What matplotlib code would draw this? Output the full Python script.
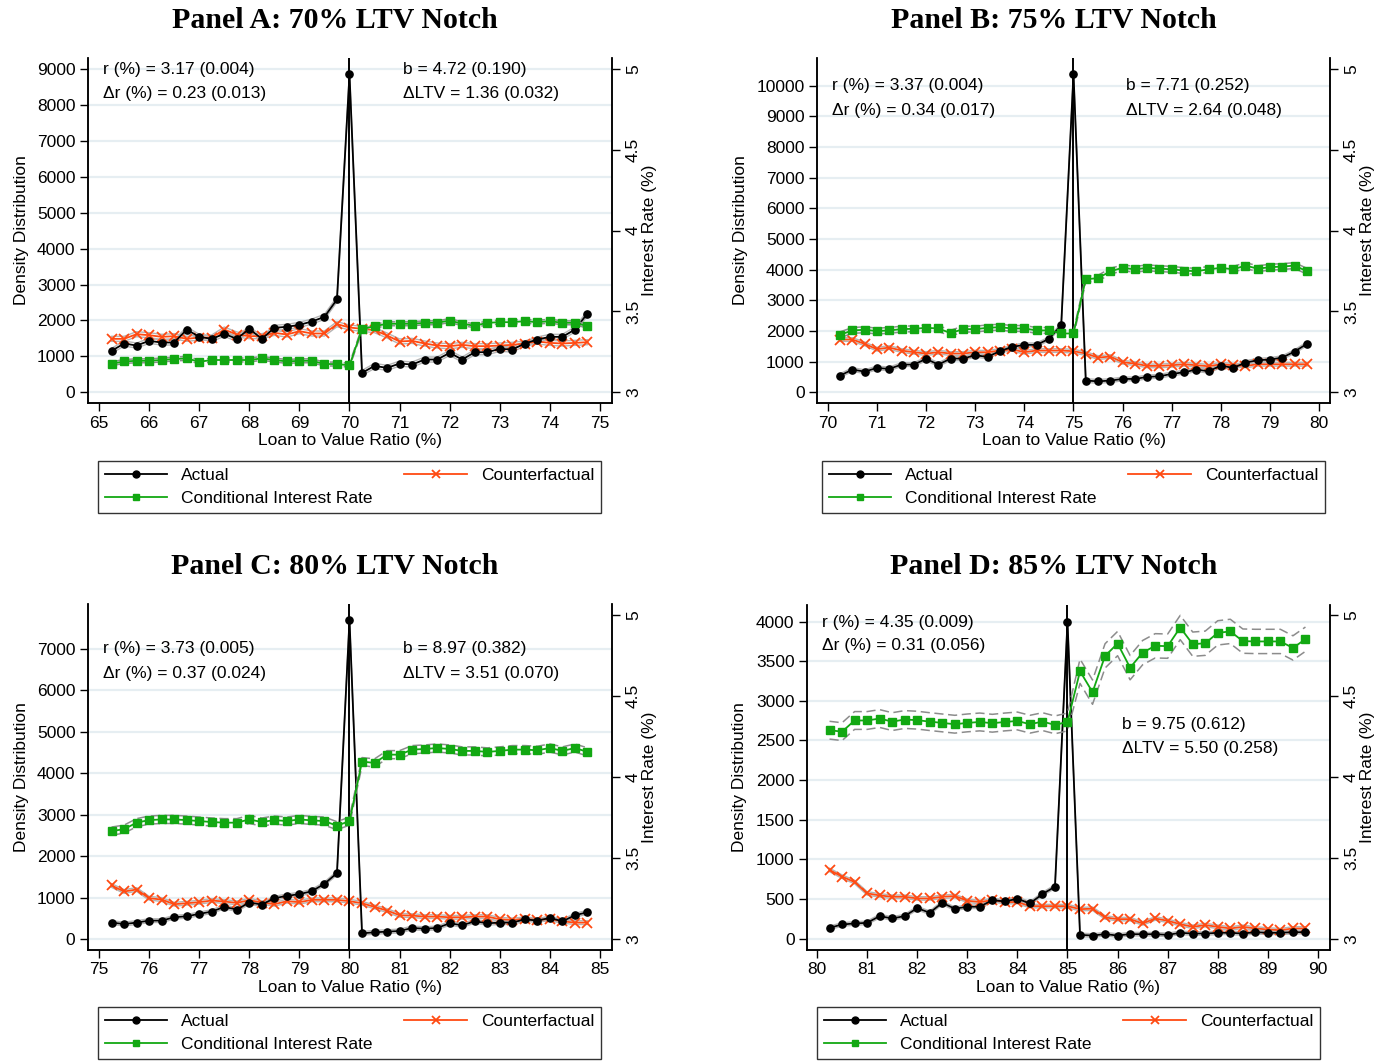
import matplotlib
matplotlib.use("Agg")
import matplotlib.pyplot as plt
import numpy as np
from matplotlib.lines import Line2D

plt.rcParams['font.family'] = ['Liberation Sans', 'DejaVu Sans']

W, H = 1377, 1062

# ---------------- DATA ----------------
ltv_a = [65.25, 65.5, 65.75, 66, 66.25, 66.5, 66.75, 67, 67.25, 67.5, 67.75, 68, 68.25, 68.5, 68.75, 69, 69.25, 69.5, 69.75, 70,
         70.25, 70.5, 70.75, 71, 71.25, 71.5, 71.75, 72, 72.25, 72.5, 72.75, 73, 73.25, 73.5, 73.75, 74, 74.25, 74.5, 74.75]
actual_a = [1152, 1357, 1301, 1431, 1385, 1385, 1747, 1543, 1487, 1626, 1487, 1766, 1487, 1794, 1822, 1877, 1970, 2100, 2584, 8857,
            539, 734, 678, 799, 771, 911, 911, 1097, 911, 1115, 1115, 1208, 1190, 1357, 1468, 1543, 1543, 1747, 2193]
counter_a = [1487, 1487, 1617, 1589, 1543, 1561, 1487, 1524, 1524, 1747, 1608, 1561, 1561, 1654, 1608, 1701, 1636, 1636, 1896, 1803,
             1766, 1729, 1580, 1413, 1431, 1357, 1301, 1283, 1320, 1283, 1283, 1301, 1320, 1357, 1413, 1375, 1357, 1375, 1394]
rate_a = [3.177, 3.191, 3.195, 3.195, 3.200, 3.206, 3.210, 3.189, 3.200, 3.200, 3.200, 3.200, 3.210, 3.200, 3.191, 3.195, 3.195, 3.175, 3.175, 3.167,
          3.391, 3.409, 3.424, 3.424, 3.424, 3.430, 3.430, 3.444, 3.424, 3.412, 3.430, 3.434, 3.434, 3.440, 3.434, 3.440, 3.430, 3.430, 3.409]

ltv_b = [70.25, 70.5, 70.75, 71, 71.25, 71.5, 71.75, 72, 72.25, 72.5, 72.75, 73, 73.25, 73.5, 73.75, 74, 74.25, 74.5, 74.75, 75,
         75.25, 75.5, 75.75, 76, 76.25, 76.5, 76.75, 77, 77.25, 77.5, 77.75, 78, 78.25, 78.5, 78.75, 79, 79.25, 79.5, 79.75]
actual_b = [545, 741, 675, 795, 763, 904, 904, 1089, 904, 1100, 1100, 1209, 1155, 1340, 1481, 1547, 1547, 1743, 2190, 10392,
            381, 359, 381, 436, 436, 501, 523, 599, 654, 741, 686, 871, 795, 969, 1046, 1068, 1133, 1329, 1580]
counter_b = [1721, 1721, 1580, 1405, 1460, 1362, 1307, 1264, 1307, 1264, 1264, 1307, 1307, 1362, 1405, 1307, 1362, 1362, 1362, 1340,
             1264, 1133, 1166, 980, 937, 861, 861, 882, 915, 882, 850, 915, 882, 861, 915, 915, 915, 915, 915]
rate_b = [3.356, 3.383, 3.387, 3.379, 3.383, 3.391, 3.393, 3.399, 3.395, 3.366, 3.391, 3.391, 3.399, 3.403, 3.395, 3.395, 3.383, 3.383, 3.364, 3.364,
          3.700, 3.706, 3.749, 3.770, 3.761, 3.770, 3.765, 3.761, 3.753, 3.749, 3.761, 3.770, 3.761, 3.784, 3.765, 3.774, 3.778, 3.784, 3.749]

ltv_c = [75.25, 75.5, 75.75, 76, 76.25, 76.5, 76.75, 77, 77.25, 77.5, 77.75, 78, 78.25, 78.5, 78.75, 79, 79.25, 79.5, 79.75, 80,
         80.25, 80.5, 80.75, 81, 81.25, 81.5, 81.75, 82, 82.25, 82.5, 82.75, 83, 83.25, 83.5, 83.75, 84, 84.25, 84.5, 84.75]
actual_c = [396, 363, 396, 444, 444, 525, 549, 606, 662, 775, 711, 880, 832, 985, 1042, 1082, 1155, 1333, 1591, 7698,
            137, 162, 178, 194, 267, 250, 267, 380, 331, 428, 380, 396, 396, 477, 444, 509, 428, 574, 646]
counter_c = [1292, 1147, 1195, 985, 953, 840, 864, 889, 929, 905, 872, 937, 880, 840, 913, 889, 945, 945, 945, 913,
             864, 775, 687, 574, 565, 541, 541, 525, 525, 541, 541, 477, 460, 485, 460, 485, 428, 396, 396]
rate_c = [3.666, 3.678, 3.718, 3.734, 3.738, 3.738, 3.734, 3.728, 3.722, 3.718, 3.718, 3.738, 3.722, 3.734, 3.728, 3.738, 3.732, 3.728, 3.699, 3.728,
          4.095, 4.087, 4.138, 4.138, 4.169, 4.173, 4.179, 4.173, 4.161, 4.161, 4.155, 4.161, 4.169, 4.169, 4.165, 4.179, 4.161, 4.179, 4.155]

ltv_d = [80.25, 80.5, 80.75, 81, 81.25, 81.5, 81.75, 82, 82.25, 82.5, 82.75, 83, 83.25, 83.5, 83.75, 84, 84.25, 84.5, 84.75, 85,
         85.25, 85.5, 85.75, 86, 86.25, 86.5, 86.75, 87, 87.25, 87.5, 87.75, 88, 88.25, 88.5, 88.75, 89, 89.25, 89.5, 89.75]
actual_d = [135, 177, 190, 198, 283, 253, 283, 384, 325, 451, 376, 401, 401, 485, 468, 502, 443, 561, 654, 4000,
            46, 38, 55, 38, 55, 55, 55, 46, 72, 63, 63, 72, 72, 63, 80, 72, 72, 80, 80]
counter_d = [865, 781, 713, 570, 544, 527, 527, 506, 506, 527, 536, 477, 460, 485, 460, 460, 409, 409, 409, 409,
             371, 376, 266, 245, 245, 190, 253, 224, 181, 148, 169, 148, 127, 148, 127, 114, 105, 127, 127]
rate_d = [4.289, 4.280, 4.349, 4.349, 4.361, 4.342, 4.355, 4.351, 4.342, 4.334, 4.326, 4.334, 4.340, 4.332, 4.340, 4.346, 4.326, 4.342, 4.322, 4.340,
          4.653, 4.524, 4.748, 4.824, 4.675, 4.768, 4.810, 4.808, 4.923, 4.820, 4.826, 4.890, 4.899, 4.839, 4.837, 4.837, 4.837, 4.797, 4.851]

# approximate confidence-band half-widths
dens_ci = {'A': 70, 'B': 60, 'C': 45, 'D': 22}
rate_ci_left = {'A': 0.012, 'B': 0.018, 'C': 0.025, 'D': 0.055}
rate_ci_right = {'A': 0.012, 'B': 0.018, 'C': 0.025, 'D': 0.075}

titles = ["Panel A: 70% LTV Notch", "Panel B: 75% LTV Notch", "Panel C: 80% LTV Notch", "Panel D: 85% LTV Notch"]
notches = [70, 75, 80, 85]
r_text = ["r (%) = 3.17 (0.004)", "r (%) = 3.37 (0.004)", "r (%) = 3.73 (0.005)", "r (%) = 4.35 (0.009)"]
dr_text = ["\u0394r (%) = 0.23 (0.013)", "\u0394r (%) = 0.34 (0.017)", "\u0394r (%) = 0.37 (0.024)", "\u0394r (%) = 0.31 (0.056)"]
b_text = ["b = 4.72 (0.190)", "b = 7.71 (0.252)", "b = 8.97 (0.382)", "b = 9.75 (0.612)"]
dl_text = ["\u0394LTV = 1.36 (0.032)", "\u0394LTV = 2.64 (0.048)", "\u0394LTV = 3.51 (0.070)", "\u0394LTV = 5.50 (0.258)"]

xticks_list = [list(range(65, 76)), list(range(70, 81)), list(range(75, 86)), list(range(80, 91))]
yticks_list = [list(range(0, 9001, 1000)), list(range(0, 10001, 1000)), list(range(0, 7001, 1000)), list(range(0, 4001, 500))]
rticks = [3, 3.5, 4, 4.5, 5]
rtick_labels = ["3", "3.5", "4", "4.5", "5"]

# ---------------- LAYOUT (pixels) ----------------
panels = [
    dict(key='A', ltv=ltv_a, act=actual_a, cf=counter_a, rate=rate_a, box=(88, 58, 612, 403),
         xlim=(64.78, 75.24), ylim=(-300, 9310), rlim=(2.934, 5.068),
         rpos=(65.08, 9000, 8309), bpos=(71.07, 9000, 8309), tcx=335, tcy=21, leg=(98, 458, 601, 516)),
    dict(key='B', ltv=ltv_b, act=actual_b, cf=counter_b, rate=rate_b, box=(817, 58, 1330, 403),
         xlim=(69.78, 80.22), ylim=(-349, 10903), rlim=(2.934, 5.068),
         rpos=(70.08, 9990, 9175), bpos=(76.07, 9990, 9175), tcx=1054, tcy=21, leg=(822, 458, 1325, 516)),
    dict(key='C', ltv=ltv_c, act=actual_c, cf=counter_c, rate=rate_c, box=(88, 604, 612, 950),
         xlim=(74.78, 85.24), ylim=(-265, 8086), rlim=(2.932, 5.068),
         rpos=(75.08, 7000, 6397), bpos=(81.07, 7000, 6397), tcx=335, tcy=567, leg=(98, 1004, 601, 1062)),
    dict(key='D', ltv=ltv_d, act=actual_d, cf=counter_d, rate=rate_d, box=(807, 605, 1330, 950),
         xlim=(79.8, 90.24), ylim=(-145, 4210), rlim=(2.932, 5.062),
         rpos=(80.1, 3991, 3700), bpos=(86.09, 2699, 2396), tcx=1054, tcy=567, leg=(817, 1004, 1320, 1062)),
]

BLACK = '#000000'
ORANGE = '#ff4a12'
GREEN = '#12a812'
GRID = '#e6eef2'
fs = 12.5

fig = plt.figure(figsize=(W / 100, H / 100), dpi=100)

for i, p in enumerate(panels):
    x0, y0, x1, y1 = p['box']
    ax = fig.add_axes([x0 / W, 1 - y1 / H, (x1 - x0) / W, (y1 - y0) / H])
    ax2 = ax.twinx()
    k = p['key']
    x = np.array(p['ltv'])
    act = np.array(p['act'], dtype=float)
    cf = np.array(p['cf'], dtype=float)
    rate = np.array(p['rate'])
    n = notches[i]

    ax.set_ylim(*p['ylim'])
    ax.set_xlim(*p['xlim'])
    ax.set_yticks(yticks_list[i])
    ax.set_xticks(xticks_list[i])
    ax.grid(axis='y', color=GRID, lw=1.6)
    ax.grid(axis='x', visible=False)
    ax.set_axisbelow(True)

    dci = dens_ci[k]
    for arr in (act, cf):
        ax.plot(x, arr + dci, color='#b4b4b4', lw=1.0, zorder=2)
        ax.plot(x, arr - dci, color='#b4b4b4', lw=1.0, zorder=2)
    ax.plot(x, act, color=BLACK, lw=1.3, marker='o', ms=5.2, zorder=4)
    ax.plot(x, cf, color=ORANGE, lw=1.3, marker='x', ms=7, mew=1.3, zorder=3)
    ax.axvline(n, color=BLACK, lw=1.4, zorder=5)

    ax2.set_ylim(*p['rlim'])
    ci = np.where(x <= n, rate_ci_left[k], rate_ci_right[k])
    ax2.plot(x, rate + ci, color='#8c8c8c', lw=1.1, ls=(0, (6, 3)), zorder=2)
    ax2.plot(x, rate - ci, color='#8c8c8c', lw=1.1, ls=(0, (6, 3)), zorder=2)
    ax2.plot(x, rate, color=GREEN, lw=1.3, marker='s', ms=5.2, zorder=3)
    ax2.set_yticks(rticks)
    ax2.set_yticklabels(rtick_labels, rotation=90, va='center')

    for a in (ax, ax2):
        a.spines['top'].set_visible(False)
        for s in ('left', 'right', 'bottom'):
            a.spines[s].set_linewidth(1.1)
    ax.tick_params(axis='both', direction='out', length=6, width=1.0, labelsize=fs, pad=3)
    ax2.tick_params(axis='y', direction='out', length=6, width=1.0, labelsize=fs, pad=4)

    ax.set_xlabel("Loan to Value Ratio (%)", fontsize=fs, labelpad=2)
    ax.set_ylabel("Density Distribution", fontsize=fs, labelpad=6)
    ax2.set_ylabel("Interest Rate (%)", fontsize=fs, labelpad=1)

    rx, ry1, ry2 = p['rpos']
    bx, by1, by2 = p['bpos']
    ax.text(rx, ry1, r_text[i], fontsize=fs, va='center', ha='left', zorder=6)
    ax.text(rx, ry2, dr_text[i], fontsize=fs, va='center', ha='left', zorder=6)
    ax.text(bx, by1, b_text[i], fontsize=fs, va='center', ha='left', zorder=6)
    ax.text(bx, by2, dl_text[i], fontsize=fs, va='center', ha='left', zorder=6)

    fig.text(p['tcx'] / W, 1 - p['tcy'] / H, titles[i], fontsize=21.5, fontweight='bold',
             family=['Liberation Serif', 'DejaVu Serif'], ha='center', va='center')

    lx0, ly0, lx1, ly1 = p['leg']
    handles = [Line2D([], [], color=BLACK, lw=1.3, marker='o', ms=5),
               Line2D([], [], color=GREEN, lw=1.3, marker='s', ms=5),
               Line2D([], [], color=ORANGE, lw=1.3, marker='x', ms=6, mew=1.3)]
    labels = ["Actual", "Conditional Interest Rate", "Counterfactual"]
    leg = fig.legend(handles, labels, ncol=2, mode='expand',
                     bbox_to_anchor=(lx0 / W, 1 - ly1 / H, (lx1 - lx0) / W, (ly1 - ly0) / H),
                     loc='center', fontsize=fs, frameon=True, fancybox=False, edgecolor='black',
                     handlelength=3.6, handletextpad=0.8, borderaxespad=0, labelspacing=0.5,
                     borderpad=0.4, markerscale=1.0)
    leg.get_frame().set_linewidth(1.0)

fig.savefig("out.png", dpi=100, facecolor='white')
